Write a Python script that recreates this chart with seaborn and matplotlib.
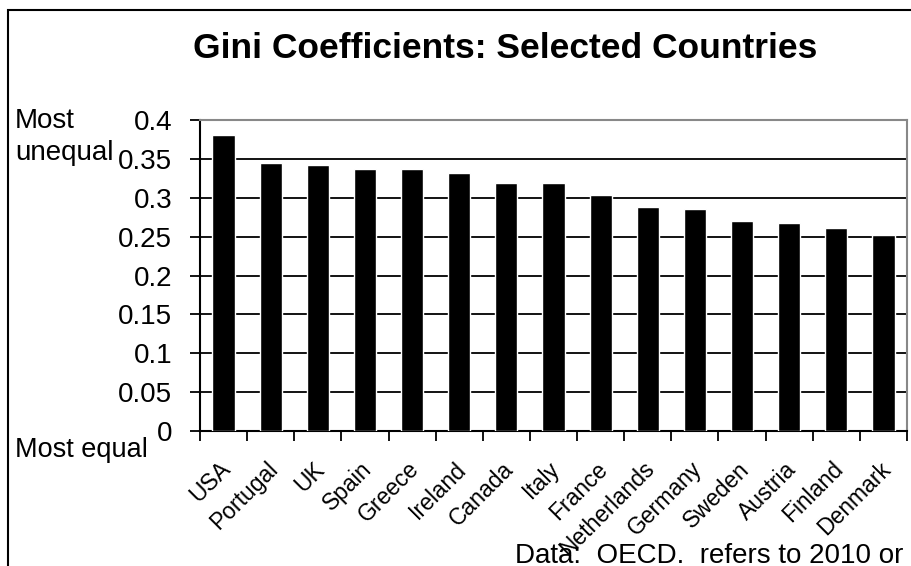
import matplotlib
matplotlib.use("Agg")
import matplotlib.pyplot as plt
import seaborn as sns
import pandas as pd
from matplotlib.patches import Rectangle

countries = ["USA", "Portugal", "UK", "Spain", "Greece", "Ireland", "Canada", "Italy",
             "France", "Netherlands", "Germany", "Sweden", "Austria", "Finland", "Denmark"]
gini = [0.381, 0.345, 0.342, 0.337, 0.337, 0.332, 0.319, 0.319,
        0.3035, 0.2885, 0.286, 0.2705, 0.268, 0.261, 0.2525]
yticks = [0, 0.05, 0.1, 0.15, 0.2, 0.25, 0.3, 0.35, 0.4]
ytick_labels = ["0", "0.05", "0.1", "0.15", "0.2", "0.25", "0.3", "0.35", "0.4"]

sns.set_style("white")
plt.rcParams['font.family'] = ['Liberation Sans', 'DejaVu Sans']
plt.rcParams['text.color'] = 'black'
plt.rcParams['xtick.color'] = 'black'
plt.rcParams['ytick.color'] = 'black'

df = pd.DataFrame({"country": countries, "gini": gini})

fig = plt.figure(figsize=(9.11, 5.66), dpi=100)
ax = fig.add_axes([200/911, 1 - 431/566, 707/911, 311/566])

sns.barplot(data=df, x="country", y="gini", color="black", width=0.47,
            saturation=1, ax=ax, zorder=3)

ax.set_ylim(0, 0.4)
ax.set_xlim(-0.5, len(countries) - 0.5)
ax.set_yticks(yticks)
ax.set_yticklabels(ytick_labels, fontsize=20, color="black")
ax.set_xlabel("")
ax.set_ylabel("")

# gridlines
for v in yticks[1:-1]:
    ax.axhline(v, color="black", lw=1.3, zorder=1)

# category boundary ticks
ax.set_xticks([i - 0.5 for i in range(len(countries) + 1)], minor=False)
ax.set_xticklabels([])
ax.tick_params(axis="x", which="major", direction="out", length=7, width=1.3, color="black")
ax.tick_params(axis="y", which="major", direction="out", length=7, width=1.3, color="black", pad=13)
ax.tick_params(left=True, bottom=True)

for i, name in enumerate(countries):
    ax.text(i - 0.1, -0.034, name, rotation=45, rotation_mode="anchor",
            ha="right", va="top", fontsize=16.5, color="black", transform=ax.transData)

for s in ["left", "bottom"]:
    ax.spines[s].set_color("black")
    ax.spines[s].set_linewidth(1.5)
for s in ["top", "right"]:
    ax.spines[s].set_color("#888888")
    ax.spines[s].set_linewidth(1.5)
    ax.spines[s].set_visible(True)

fig.text(505/911, 1 - 48/566, "Gini Coefficients: Selected Countries", ha="center", va="center",
         fontsize=25.5, fontweight="bold", color="black")
fig.text(15/911, 1 - 121/566, "Most", ha="left", va="center", fontsize=20, color="black")
fig.text(15/911, 1 - 153/566, "unequal", ha="left", va="center", fontsize=20, color="black")
fig.text(15/911, 1 - 450/566, "Most equal", ha="left", va="center", fontsize=19.5, color="black")
fig.text(903/911, 1 - 563/566, "Data:  OECD.  refers to 2010 or", ha="right", va="baseline",
         fontsize=20, color="black")

# outer frame
fig.patches.append(Rectangle((8/911, -0.1), 1.2, (1 - 10/566) + 0.1, transform=fig.transFigure,
                             fill=False, edgecolor="black", lw=1.5, zorder=0))

fig.savefig("out.png", dpi=100, facecolor="white")
